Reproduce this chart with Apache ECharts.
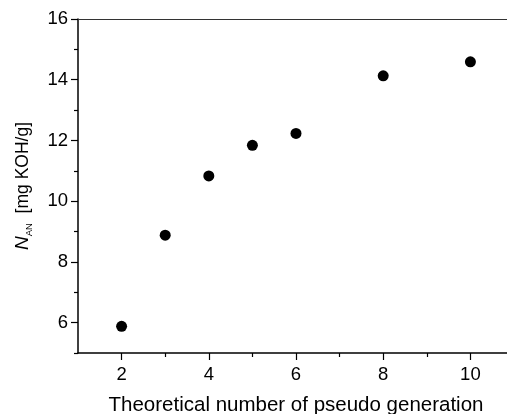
<!DOCTYPE html>
<html>
<head>
<meta charset="utf-8">
<script src="https://cdn.jsdelivr.net/npm/echarts@6/dist/echarts.min.js"></script>
<style>
  html, body { margin: 0; padding: 0; background: #fff; }
  #chart { width: 507px; height: 414px; }
</style>
</head>
<body>
<div id="chart"></div>
<script>
// values
const generations = [2, 3, 4, 5, 6, 8, 10];
const acidNumber = [5.88, 8.88, 10.83, 11.84, 12.23, 14.13, 14.59];
const xMajorTicks = [2, 4, 6, 8, 10];
const xMinorTicks = [3, 5, 7, 9];
const yMajorTicks = [6, 8, 10, 12, 14, 16];
const yMinorTicks = [5, 7, 9, 11, 13, 15];

const font = 'Liberation Sans';
const xRange = { min: 1, max: 11 };
const yRange = { min: 5, max: 16 };

var chart = echarts.init(document.getElementById('chart'));

chart.setOption({
  animation: false,
  backgroundColor: '#fff',
  grid: { left: 78, top: 19, right: -7, bottom: 61, outerBoundsMode: 'none', containLabel: false },
  xAxis: [
    {
      type: 'value', position: 'bottom', min: xRange.min, max: xRange.max,
      name: 'Theoretical number of pseudo generation',
      nameLocation: 'middle', nameGap: 42,
      nameTextStyle: { fontFamily: font, fontSize: 20.5, color: '#000' },
      axisLine: { lineStyle: { color: '#000', width: 1.5 } },
      axisTick: { customValues: xMajorTicks, length: 7, lineStyle: { color: '#000', width: 1.2 } },
      axisLabel: { customValues: xMajorTicks, margin: 12, fontFamily: font, fontSize: 18.5, color: '#000' },
      splitLine: { show: false }
    },
    {
      type: 'value', position: 'bottom', min: xRange.min, max: xRange.max,
      axisLine: { show: false },
      axisTick: { customValues: xMinorTicks, length: 4, lineStyle: { color: '#000', width: 1.2 } },
      axisLabel: { show: false },
      splitLine: { show: false }
    },
    {
      type: 'value', position: 'top', min: xRange.min, max: xRange.max,
      axisLine: { lineStyle: { color: '#333', width: 1 } },
      axisTick: { show: false },
      axisLabel: { show: false },
      splitLine: { show: false }
    }
  ],
  yAxis: [
    {
      type: 'value', position: 'left', min: yRange.min, max: yRange.max,
      name: '{n|N}{s|AN}{t|  [mg KOH/g]}',
      nameLocation: 'middle', nameGap: 44, nameRotate: 90,
      nameTextStyle: {
        fontFamily: font, fontSize: 17, color: '#000',
        rich: {
          n: { fontFamily: font, fontSize: 19, fontStyle: 'italic', lineHeight: 22, color: '#000' },
          s: { fontFamily: font, fontSize: 9.5, lineHeight: 2, verticalAlign: 'bottom', color: '#000' },
          t: { fontFamily: font, fontSize: 17.5, lineHeight: 22, color: '#000' }
        }
      },
      axisLine: { lineStyle: { color: '#000', width: 1.5 } },
      axisTick: { customValues: yMajorTicks, length: 7, lineStyle: { color: '#000', width: 1.2 } },
      axisLabel: { customValues: yMajorTicks, margin: 10, fontFamily: font, fontSize: 18.5, color: '#000' },
      splitLine: { show: false }
    },
    {
      type: 'value', position: 'left', min: yRange.min, max: yRange.max,
      axisLine: { show: false },
      axisTick: { customValues: yMinorTicks, length: 4, lineStyle: { color: '#000', width: 1.2 } },
      axisLabel: { show: false },
      splitLine: { show: false }
    }
  ],
  series: [
    {
      type: 'scatter',
      xAxisIndex: 0,
      yAxisIndex: 0,
      symbol: 'circle',
      symbolSize: 11,
      itemStyle: { color: '#000', opacity: 1 },
      data: generations.map((g, i) => [g, acidNumber[i]])
    }
  ]
});
</script>
</body>
</html>
